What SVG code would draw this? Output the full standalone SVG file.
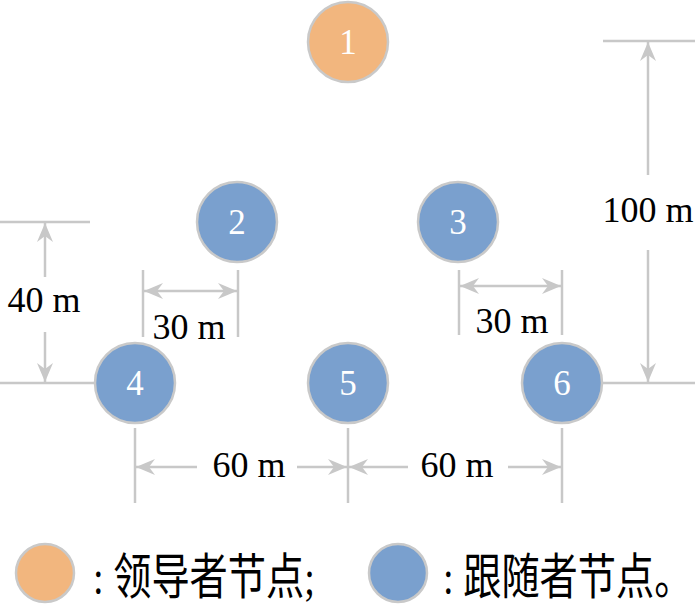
<svg xmlns="http://www.w3.org/2000/svg" width="700" height="604" viewBox="0 0 700 604">
<defs>
<style>
.bg{fill:#ffffff}
.lead{fill:#F2B67E;stroke:#C9C9C9;stroke-width:2.5}
.fol{fill:#7AA0CE;stroke:#C9C9C9;stroke-width:2.5}
.num{font-family:"Liberation Serif",serif;font-size:35px;fill:#ffffff;text-anchor:middle}
.dim{stroke:#C8C8C8;stroke-width:2.5;fill:none}
.arr{stroke:#C8C8C8;stroke-width:2.5;fill:none;marker-end:url(#ah)}
.arr2{stroke:#C8C8C8;stroke-width:2.5;fill:none;marker-end:url(#ah);marker-start:url(#ahs)}
.lbl{font-family:"Liberation Serif",serif;font-size:36px;fill:#000000;text-anchor:middle}
.leg{font-family:"Liberation Serif","Noto Sans CJK SC",serif;font-size:49px;fill:#000000}
</style>
<marker id="ah" markerUnits="userSpaceOnUse" markerWidth="24" markerHeight="20" viewBox="-20 -10 22 20" refX="0" refY="0" orient="auto">
<path d="M0,0 L-19,-8 L-13,0 L-19,8 Z" fill="#C8C8C8"/>
</marker>
<marker id="ahs" markerUnits="userSpaceOnUse" markerWidth="24" markerHeight="20" viewBox="-2 -10 22 20" refX="0" refY="0" orient="auto">
<path d="M0,0 L19,-8 L13,0 L19,8 Z" fill="#C8C8C8"/>
</marker>
</defs>
<rect class="bg" x="0" y="0" width="700" height="604"/>

<g id="connectors">
<line class="dim" x1="0" y1="222" x2="90" y2="222"/>
<line class="dim" x1="0" y1="383" x2="94" y2="383"/>
<line class="arr" x1="45" y1="277" x2="45" y2="223"/>
<line class="arr" x1="45" y1="332" x2="45" y2="382"/>
<text class="lbl" x="44" y="312">40 m</text>
<line class="dim" x1="603" y1="41" x2="695" y2="41"/>
<line class="dim" x1="603" y1="383" x2="695" y2="383"/>
<line class="arr" x1="648" y1="175" x2="648" y2="42"/>
<line class="arr" x1="648" y1="250" x2="648" y2="382"/>
<text class="lbl" x="648" y="222">100 m</text>
<line class="dim" x1="143" y1="270" x2="143" y2="337"/>
<line class="dim" x1="238" y1="270" x2="238" y2="337"/>
<line class="arr2" x1="144" y1="291" x2="237" y2="291"/>
<text class="lbl" x="189" y="339">30 m</text>
<line class="dim" x1="459" y1="270" x2="459" y2="335"/>
<line class="dim" x1="562" y1="270" x2="562" y2="335"/>
<line class="arr2" x1="460" y1="286" x2="561" y2="286"/>
<text class="lbl" x="512" y="333">30 m</text>
<line class="dim" x1="135" y1="428" x2="135" y2="503"/>
<line class="dim" x1="348" y1="428" x2="348" y2="503"/>
<line class="dim" x1="562" y1="428" x2="562" y2="503"/>
<line class="arr" x1="197" y1="467" x2="136" y2="467"/>
<line class="arr" x1="297" y1="467" x2="347" y2="467"/>
<line class="arr" x1="408" y1="467" x2="349" y2="467"/>
<line class="arr" x1="508" y1="467" x2="561" y2="467"/>
<text class="lbl" x="249" y="477">60 m</text>
<text class="lbl" x="457" y="477">60 m</text>
</g>

<g id="node1"><circle class="lead" cx="348" cy="42" r="40"/><text class="num" x="348" y="54">1</text></g>
<g id="node2"><circle class="fol" cx="237" cy="222" r="40"/><text class="num" x="237" y="234">2</text></g>
<g id="node3"><circle class="fol" cx="458" cy="222" r="40"/><text class="num" x="458" y="234">3</text></g>
<g id="node4"><circle class="fol" cx="135" cy="383" r="40"/><text class="num" x="135" y="395">4</text></g>
<g id="node5"><circle class="fol" cx="348" cy="383" r="40"/><text class="num" x="348" y="395">5</text></g>
<g id="node6"><circle class="fol" cx="562" cy="383" r="40"/><text class="num" x="562" y="395">6</text></g>

<g id="legend-leader">
<circle class="lead" cx="45" cy="573" r="29"/>
<text class="leg" transform="translate(93,594) scale(0.78,1)" x="0" y="0">: 领导者节点;</text>
</g>
<g id="legend-follower">
<circle class="fol" cx="398" cy="573" r="29"/>
<text class="leg" transform="translate(443,594) scale(0.78,1)" x="0" y="0">: 跟随者节点。</text>
</g>
</svg>
